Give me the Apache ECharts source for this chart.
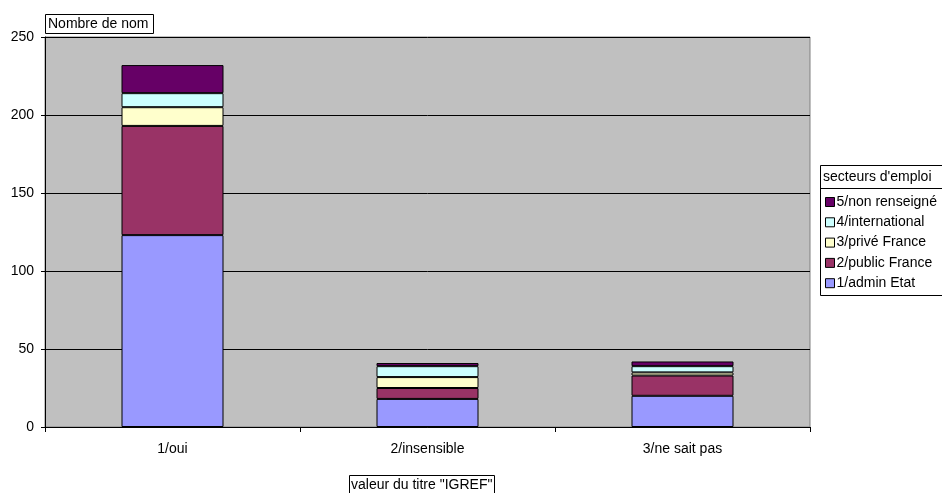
<!DOCTYPE html>
<html>
<head>
<meta charset="utf-8">
<script src="https://cdn.jsdelivr.net/npm/echarts@6/dist/echarts.min.js"></script>
<style>
  html, body { margin: 0; padding: 0; background: #ffffff; }
  #chart { width: 942px; height: 493px; }
</style>
</head>
<body>
<div id="chart"></div>
<script>
// Répartition par secteur d'emploi selon la valeur du titre "IGREF"
const categories = ['1/oui', '2/insensible', '3/ne sait pas'];
const seriesNames = ['1/admin Etat', '2/public France', '3/privé France', '4/international', '5/non renseigné'];
const adminEtat = [123, 18, 20];
const publicFrance = [70, 7, 13];
const priveFrance = [12, 7, 2];
const international = [9, 7, 4];
const nonRenseigne = [18, 2, 3];
const yTicks = [0, 50, 100, 150, 200, 250];

const seriesValues = [adminEtat, publicFrance, priveFrance, international, nonRenseigne];
const colors = ['#9999FF', '#993366', '#FFFFCC', '#CCFFFF', '#660066'];

const FONT = "'Liberation Sans', Arial, sans-serif";
const FS = 14;

const chart = echarts.init(document.getElementById('chart'), null, { renderer: 'canvas' });

const series = seriesNames.map((name, i) => ({
  name: name,
  type: 'bar',
  stack: 'total',
  barWidth: '40%',
  data: seriesValues[i],
  itemStyle: { color: colors[i], borderColor: '#000000', borderWidth: 1 },
  emphasis: { disabled: true },
  animation: false
}));

chart.setOption({
  animation: false,
  textStyle: { fontFamily: FONT, fontSize: FS, color: '#000' },
  title: [
    {
      text: 'Nombre de nom',
      left: 45, top: 14,
      padding: [3, 5, 2, 3],
      borderColor: '#000', borderWidth: 1, backgroundColor: '#fff',
      textStyle: { fontFamily: FONT, fontSize: FS, fontWeight: 'normal', color: '#000', lineHeight: 15 }
    },
    {
      text: 'valeur du titre "IGREF"',
      left: 349, top: 475,
      padding: [3, 2, 2, 2],
      borderColor: '#000', borderWidth: 1, backgroundColor: '#fff',
      textStyle: { fontFamily: FONT, fontSize: FS, fontWeight: 'normal', color: '#000', lineHeight: 15 }
    }
  ],
  grid: {
    left: 45, top: 37, width: 765, height: 390,
    show: true, backgroundColor: '#C0C0C0', borderColor: '#808080', borderWidth: 1,
    containLabel: false
  },
  legend: {
    orient: 'vertical',
    left: 825, top: 195,
    padding: 0,
    data: seriesNames.slice().reverse(),
    icon: 'rect',
    itemWidth: 9, itemHeight: 9,
    itemGap: 6.3,
    itemStyle: { borderColor: '#000', borderWidth: 1 },
    textStyle: { fontFamily: FONT, fontSize: FS, color: '#000', padding: [0, 0, 0, -3], lineHeight: 14 },
    selectedMode: false
  },
  graphic: [
    {
      type: 'rect', silent: true, z: 0,
      shape: { x: 820.5, y: 165.5, width: 140, height: 130 },
      style: { fill: '#fff', stroke: '#000', lineWidth: 1 }
    },
    {
      type: 'line', silent: true, z: 1,
      shape: { x1: 820.5, y1: 188.5, x2: 942, y2: 188.5 },
      style: { stroke: '#000', lineWidth: 1 }
    },
    {
      type: 'text', silent: true, z: 1,
      left: 823, top: 170,
      style: { text: "secteurs d'emploi", font: FS + "px " + FONT, fill: '#000' }
    }
  ],
  xAxis: {
    type: 'category',
    data: categories,
    boundaryGap: true,
    axisLine: { show: true, lineStyle: { color: '#000', width: 1 } },
    axisTick: { show: true, length: 5, alignWithLabel: false, lineStyle: { color: '#000' } },
    axisLabel: { margin: 15, fontFamily: FONT, fontSize: FS, color: '#000' },
    splitLine: { show: false }
  },
  yAxis: {
    type: 'value',
    min: yTicks[0], max: yTicks[yTicks.length - 1], interval: yTicks[1] - yTicks[0],
    axisLine: { show: true, lineStyle: { color: '#000', width: 1 } },
    axisTick: { show: true, length: 4, lineStyle: { color: '#000' } },
    axisLabel: { margin: 11, fontFamily: FONT, fontSize: FS, color: '#000' },
    splitLine: { show: true, lineStyle: { color: '#000', width: 1 } }
  },
  series: series
});
</script>
</body>
</html>
